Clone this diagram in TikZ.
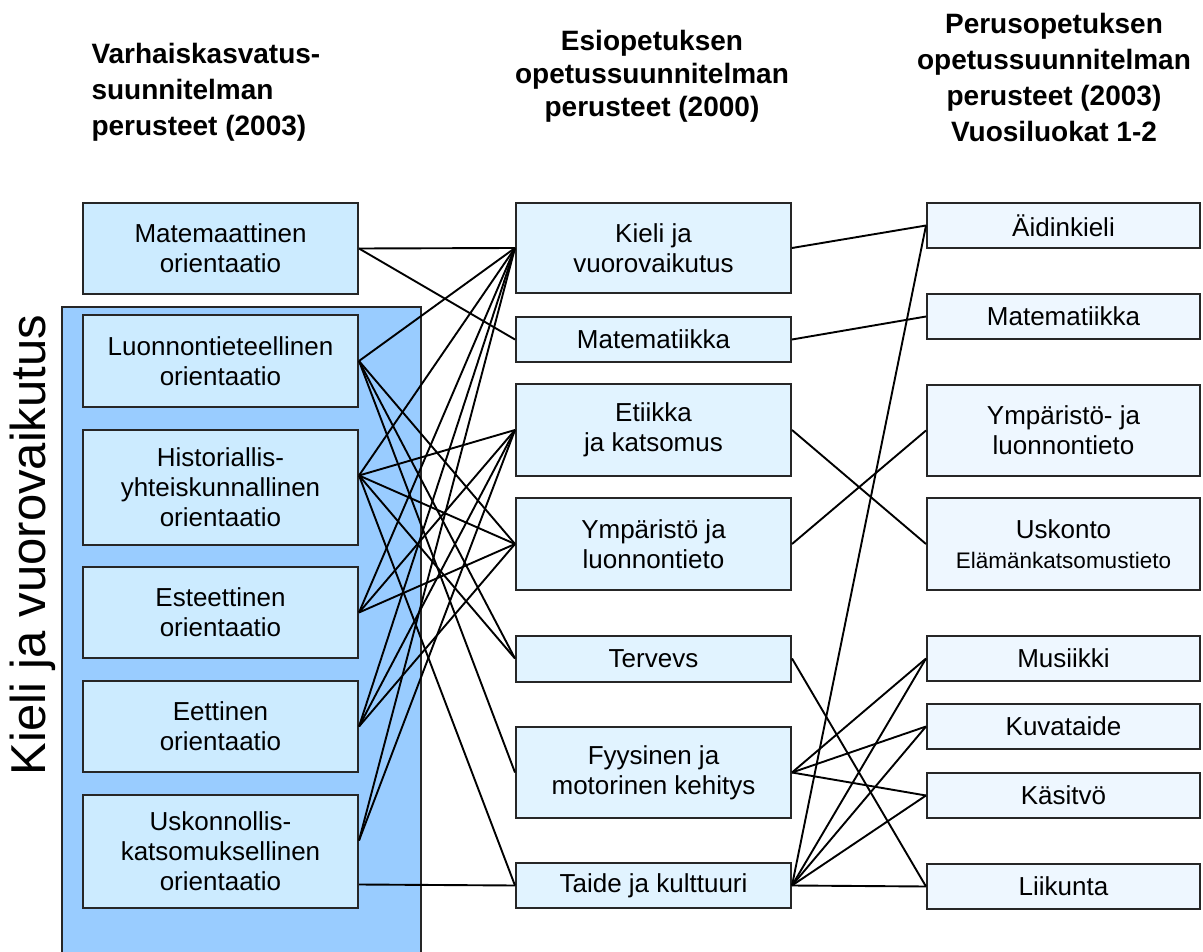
\documentclass[tikz,border=0pt]{standalone}
\usepackage{fontspec}
\setmainfont{Liberation Sans}
\usepackage{tikz}

\definecolor{frameblue}{HTML}{99CCFF}
\definecolor{varhaisfill}{HTML}{CCEBFF}
\definecolor{esifill}{HTML}{E1F3FF}
\definecolor{perusfill}{HTML}{EEF7FF}

\begin{document}
\begin{tikzpicture}[x=1pt,y=-1pt,
    box/.style={draw=black!85, line width=2pt, align=center, inner sep=2pt,
      minimum width=275pt, font=\fontsize{26}{30}\selectfont},
    vbox/.style={box, fill=varhaisfill},
    ebox/.style={box, fill=esifill},
    pbox/.style={box, fill=perusfill, minimum width=273pt},
    title/.style={font=\fontsize{28}{36}\selectfont\bfseries},
    link/.style={line width=1.9pt, black}]
  \useasboundingbox (0,0) rectangle (1203,952);

  \node[title, align=left, anchor=west] (vtitle) at (88,92) {Varhaiskasvatus-\\suunnitelman\\perusteet (2003)};
  \node[title, align=center, font=\fontsize{28}{33}\selectfont\bfseries] (etitle) at (652,76) {Esiopetuksen\\opetussuunnitelman\\perusteet (2000)};
  \node[title, align=center] (ptitle) at (1054,77) {Perusopetuksen\\opetussuunnitelman\\perusteet (2003)\\Vuosiluokat 1-2};

  \fill[frameblue] (62,307) rectangle (421,953);
  \draw[line width=2pt, black!85] (62,953) -- (62,307) -- (421,307) -- (421,953);
  \node[rotate=90, font=\fontsize{49}{50}\selectfont] (side) at (33,545) {Kieli ja vuorovaikutus};

  % varhaiskasvatus
  \node[vbox, minimum height=91pt] (mat) at (220.5,248.5) {Matemaattinen\\orientaatio};
  \node[vbox, minimum height=92pt] (luonn) at (220.5,361) {Luonnontieteellinen\\orientaatio};
  \node[vbox, minimum height=115pt] (hist) at (220.5,487.5) {Historiallis-\\yhteiskunnallinen\\orientaatio};
  \node[vbox, minimum height=91pt] (est) at (220.5,612.5) {Esteettinen\\orientaatio};
  \node[vbox, minimum height=91pt] (eet) at (220.5,726.5) {Eettinen\\orientaatio};
  \node[vbox, minimum height=113pt] (usk) at (220.5,851.5) {Uskonnollis-\\katsomuksellinen\\orientaatio};

  % esiopetus
  \node[ebox, minimum height=90pt] (kieli) at (653.5,248) {Kieli ja\\vuorovaikutus};
  \node[ebox, minimum height=45pt] (emat) at (653.5,339.5) {Matematiikka};
  \node[ebox, minimum height=92pt] (etiikka) at (653.5,430) {Etiikka\\ja katsomus};
  \node[ebox, minimum height=92pt] (eymp) at (653.5,544) {Ympäristö ja\\luonnontieto};
  \node[ebox, minimum height=46pt] (terveys) at (653.5,658.5) {Tervevs};
  \node[ebox, minimum height=91pt] (fyys) at (653.5,772.5) {Fyysinen ja\\motorinen kehitys};
  \node[ebox, minimum height=45pt] (taide) at (653.5,885.5) {Taide ja kulttuuri};

  % perusopetus
  \node[pbox, minimum height=45pt] (aidin) at (1063.5,225.5) {Äidinkieli};
  \node[pbox, minimum height=45pt] (pmat) at (1063.5,316.5) {Matematiikka};
  \node[pbox, minimum height=91pt] (pymp) at (1063.5,430.5) {Ympäristö- ja\\luonnontieto};
  \node[pbox, minimum height=92pt] (usko) at (1063.5,544) {Uskonto\\{\fontsize{22.5}{26}\selectfont Elämänkatsomustieto}};
  \node[pbox, minimum height=45pt] (musiikki) at (1063.5,658.5) {Musiikki};
  \node[pbox, minimum height=45pt] (kuva) at (1063.5,726.5) {Kuvataide};
  \node[pbox, minimum height=45pt] (kasi) at (1063.5,795.5) {Käsitvö};
  \node[pbox, minimum height=45pt] (liikunta) at (1063.5,886.5) {Liikunta};

  \coordinate (hist-e) at ([yshift=12pt]hist.east);
  \coordinate (usk-up) at ([yshift=11pt]usk.east);
  \coordinate (usk-low) at ([yshift=-33pt]usk.east);

  \foreach \t in {kieli,emat} \draw[link] (mat.east) -- (\t.west);
  \foreach \t in {kieli,eymp,terveys,fyys} \draw[link] (luonn.east) -- (\t.west);
  \foreach \t in {kieli,etiikka,eymp,terveys,taide} \draw[link] (hist-e) -- (\t.west);
  \foreach \t in {kieli,etiikka,eymp} \draw[link] (est.east) -- (\t.west);
  \foreach \t in {kieli,etiikka,eymp} \draw[link] (eet.east) -- (\t.west);
  \foreach \t in {kieli,etiikka} \draw[link] (usk-up) -- (\t.west);
  \draw[link] (usk-low) -- (taide.west);

  \draw[link] (kieli.east) -- (aidin.west);
  \draw[link] (emat.east) -- (pmat.west);
  \draw[link] (etiikka.east) -- (usko.west);
  \draw[link] (eymp.east) -- (pymp.west);
  \draw[link] (terveys.east) -- (liikunta.west);
  \foreach \t in {musiikki,kuva,kasi} \draw[link] (fyys.east) -- (\t.west);
  \foreach \t in {aidin,musiikki,kuva,kasi,liikunta} \draw[link] (taide.east) -- (\t.west);
\end{tikzpicture}
\end{document}
